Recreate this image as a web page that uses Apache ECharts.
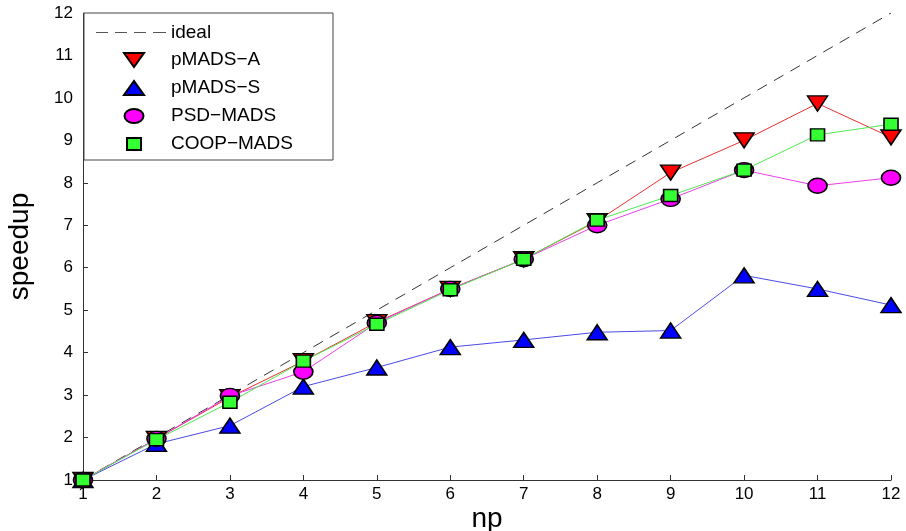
<!DOCTYPE html>
<html>
<head>
<meta charset="utf-8">
<script src="https://cdn.jsdelivr.net/npm/echarts@6/dist/echarts.min.js"></script>
<style>
  html, body { margin: 0; padding: 0; background: #fff; }
  #main { width: 906px; height: 531px; }
</style>
</head>
<body>
<div id="main"></div>
<script>
// processors
var np = [1, 2, 3, 4, 5, 6, 7, 8, 9, 10, 11, 12];
var ideal = [1, 2, 3, 4, 5, 6, 7, 8, 9, 10, 11, 12];
var pmadsA = [1, 1.97, 2.95, 3.8, 4.72, 5.5, 6.2, 7.1, 8.24, 9.0, 9.87, 9.07];
var pmadsS = [1, 1.85, 2.28, 3.2, 3.65, 4.13, 4.3, 4.48, 4.52, 5.82, 5.5, 5.12];
var psdMads = [1, 1.97, 2.98, 3.55, 4.7, 5.5, 6.2, 7.0, 7.62, 8.3, 7.93, 8.12];
var coopMads = [1, 1.95, 2.83, 3.8, 4.67, 5.48, 6.2, 7.12, 7.7, 8.3, 9.13, 9.38];

function pairs(ys) {
    var out = [];
    for (var i = 0; i < np.length; i++) {
        out.push([np[i], ys[i]]);
    }
    return out;
}

var font = 'Liberation Sans';
var downTri = 'path://M0,0 L10,0 L5,8 Z';

// legend icons: 70x18 box, tiny corner points keep the shape from being stretched
var box0 = 'M0,0L0.01,0Z ';
var box1 = ' M70,18L69.99,18Z';
var iconIdeal = 'path://' + box0 + 'M0,8.4h12v1.2h-12z M19,8.4h12v1.2h-12z M38,8.4h12v1.2h-12z M57,8.4h13v1.2h-13z' + box1;
var iconDown = 'path://' + box0 + 'M28,2 L48,2 L38,16 Z' + box1;
var iconUp = 'path://' + box0 + 'M28,16 L48,16 L38,2 Z' + box1;
var iconCircle = 'path://' + box0 + 'M28.5,9 a9.5,7 0 1,0 19,0 a9.5,7 0 1,0 -19,0 Z' + box1;
var iconRect = 'path://' + box0 + 'M31,3h14v12h-14z' + box1;

function markerSeries(name, ys, symbol, size, lineColor, fillColor) {
    return {
        name: name,
        type: 'line',
        data: pairs(ys),
        symbol: symbol,
        symbolSize: size,
        lineStyle: { color: lineColor, width: 1 },
        itemStyle: { color: fillColor, borderColor: '#000', borderWidth: 1.5 },
        emphasis: { disabled: true }
    };
}

var chart = echarts.init(document.getElementById('main'));

var option = {
    animation: false,
    grid: { left: 83, right: 15, top: 13, bottom: 51, containLabel: false, outerBoundsMode: 'none' },
    legend: {
        orient: 'vertical',
        left: 84,
        top: 13,
        padding: [10, 10, 6, 11],
        itemWidth: 70,
        itemHeight: 18,
        itemGap: 8,
        borderColor: '#444',
        borderWidth: 1,
        backgroundColor: '#fff',
        textStyle: { fontFamily: font, fontSize: 19, color: '#000', width: 152, lineHeight: 18 },
        data: [
            { name: 'ideal', icon: iconIdeal },
            { name: 'pMADS\u2212A', icon: iconDown },
            { name: 'pMADS\u2212S', icon: iconUp },
            { name: 'PSD\u2212MADS', icon: iconCircle },
            { name: 'COOP\u2212MADS', icon: iconRect }
        ]
    },
    xAxis: {
        type: 'value',
        min: 1,
        max: 12,
        interval: 1,
        name: 'np',
        nameLocation: 'middle',
        nameGap: 25,
        nameMoveOverlap: false,
        nameTextStyle: { fontFamily: font, fontSize: 28, color: '#000' },
        axisLine: { lineStyle: { color: '#333', width: 1 } },
        axisTick: { inside: true, length: 5, lineStyle: { color: '#333' } },
        axisLabel: { fontFamily: font, fontSize: 17, color: '#000', margin: 6 },
        splitLine: { show: false }
    },
    yAxis: {
        type: 'value',
        min: 1,
        max: 12,
        interval: 1,
        name: 'speedup',
        nameLocation: 'middle',
        nameGap: 49,
        nameMoveOverlap: false,
        nameTextStyle: { fontFamily: font, fontSize: 28, color: '#000' },
        axisLine: { show: true, lineStyle: { color: '#333', width: 1 } },
        axisTick: { show: true, inside: true, length: 5, lineStyle: { color: '#333' } },
        axisLabel: { fontFamily: font, fontSize: 17, color: '#000', margin: 10 },
        splitLine: { show: false }
    },
    series: [
        {
            name: 'ideal',
            type: 'line',
            data: pairs(ideal),
            symbol: 'none',
            lineStyle: { color: '#333', width: 1, type: [11, 8] },
            itemStyle: { color: '#555' },
            emphasis: { disabled: true }
        },
        markerSeries('pMADS\u2212A', pmadsA, downTri, [20, 15], '#e83030', '#ff0000'),
        markerSeries('pMADS\u2212S', pmadsS, 'triangle', [20, 15], '#4a4ae8', '#0000ff'),
        markerSeries('PSD\u2212MADS', psdMads, 'circle', [19, 15], '#e840e8', '#ff00ff'),
        markerSeries('COOP\u2212MADS', coopMads, 'rect', [14, 12], '#50e850', '#33ff33')
    ]
};

chart.setOption(option);
</script>
</body>
</html>
